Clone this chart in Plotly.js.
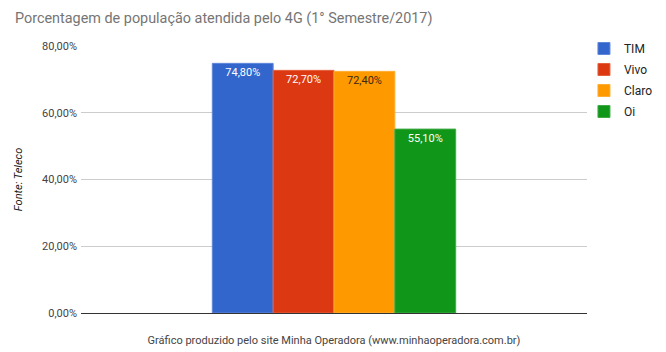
<!DOCTYPE html>
<html>
<head>
<meta charset="utf-8">
<script src="https://cdn.plot.ly/plotly-3.0.1.min.js"></script>
<style>html,body{margin:0;padding:0;background:#fff;}#chart{width:666px;height:352px;}</style>
</head>
<body>
<div id="chart"></div>
<script>
var category = ["1° Semestre/2017"];
var operators = ["TIM", "Vivo", "Claro", "Oi"];
var coverage = [74.8, 72.7, 72.4, 55.1];
var colors = ["#3366cc", "#dc3912", "#ff9900", "#109618"];
var edgeColors = ["#5f87d9", "#e4613f", "#ffad33", "#40ab46"];
var labelColors = ["#ffffff", "#ffffff", "#3a2a10", "#ffffff"];
var tickVals = [0, 20, 40, 60, 80];
var tickText = ["0,00%", "20,00%", "40,00%", "60,00%", "80,00%"];

var traces = operators.map(function (name, i) {
  return {
    type: "bar",
    name: name,
    x: category,
    y: [coverage[i]],
    legendgroup: name,
    marker: { color: colors[i], line: { color: edgeColors[i], width: 1 } },
    texttemplate: "%{y:.2f}%",
    textposition: "inside",
    insidetextanchor: "end",
    textangle: 0,
    insidetextfont: { family: "Roboto, sans-serif", size: 11, color: labelColors[i] },
    hovertemplate: name + ": %{y:.2f}%<extra></extra>"
  };
});

var layout = {
  width: 666,
  height: 352,
  margin: { l: 81, r: 79, t: 46, b: 39, autoexpand: false },
  paper_bgcolor: "#ffffff",
  plot_bgcolor: "#ffffff",
  separators: ",.",
  font: { family: "Roboto, sans-serif", size: 11, color: "#444444" },
  title: {
    text: "Porcentagem de população atendida pelo 4G (1° Semestre/2017)",
    font: { family: "Roboto, sans-serif", size: 14.4, color: "#757575" },
    x: 0, xref: "container", xanchor: "left",
    y: 1, yref: "container", yanchor: "top",
    pad: { l: 15, t: 13 }
  },
  barmode: "group",
  bargap: 0.519,
  bargroupgap: 0.0,
  xaxis: {
    showticklabels: false,
    showgrid: false,
    zeroline: false,
    showline: false,
    ticks: "",
    title: {
      text: "Gráfico produzido pelo site Minha Operadora (www.minhaoperadora.com.br)",
      font: { family: "Roboto, sans-serif", size: 11, color: "#444444" },
      standoff: 23
    }
  },
  yaxis: {
    range: [0, 80],
    tickmode: "array",
    tickvals: tickVals,
    ticktext: tickText,
    showgrid: true,
    gridcolor: "#cccccc",
    zeroline: true,
    zerolinecolor: "#333333",
    zerolinewidth: 1,
    showline: false,
    ticks: "",
    ticklen: 0,
    ticklabelstandoff: 3,
    tickfont: { family: "Roboto, sans-serif", size: 11, color: "#444444" },
    title: {
      text: "<i>Fonte: Teleco</i>",
      font: { family: "Roboto, sans-serif", size: 11, color: "#222222" },
      standoff: 17
    },
    automargin: false
  },
  legend: {
    x: 0.994, xanchor: "left",
    y: 1.045, yanchor: "top",
    font: { family: "Roboto, sans-serif", size: 12, color: "#222222" },
    tracegroupgap: 2,
    bgcolor: "rgba(0,0,0,0)"
  },
  showlegend: true
};

Plotly.newPlot("chart", traces, layout, { displayModeBar: false, responsive: false });
</script>
</body>
</html>
